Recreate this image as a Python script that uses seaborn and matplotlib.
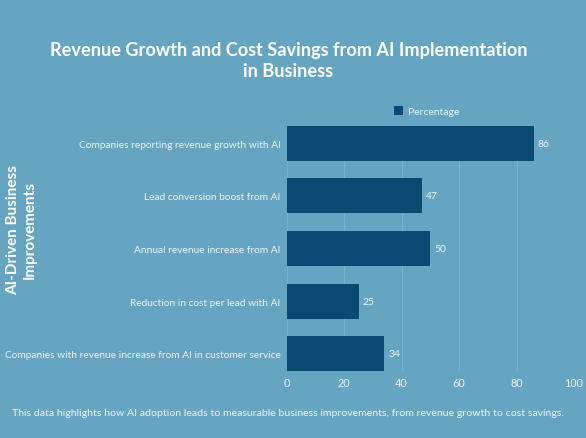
import matplotlib
matplotlib.use("Agg")
import matplotlib.pyplot as plt
from matplotlib.patches import Patch
import seaborn as sns
import pandas as pd

categories = [
    "Companies reporting revenue growth with AI",
    "Lead conversion boost from AI",
    "Annual revenue increase from AI",
    "Reduction in cost per lead with AI",
    "Companies with revenue increase from AI in customer service",
]
values = [86, 47, 50, 25, 34]
series_name = "Percentage"
x_ticks = [0, 20, 40, 60, 80, 100]
title = "Revenue Growth and Cost Savings from AI Implementation\nin Business"
ylabel = "AI-Driven Business\nImprovements"
caption = ("This data highlights how AI adoption leads to measurable business "
           "improvements, from revenue growth to cost savings.")

BG = "#66a5c1"
BAR = "#0a4972"
TXT = "#ffffff"
SOFT = "#eef4f8"

sns.set_theme(style="white")
plt.rcParams['font.family'] = ['Lato', 'DejaVu Sans']

df = pd.DataFrame({"Category": categories, "Value": values, "Series": series_name})

W, H = 586, 439
fig = plt.figure(figsize=(W / 100, H / 100), dpi=100, facecolor=BG)
left, right, top, bottom = 286.7, 574.0, 126.7, 372.3
ax = fig.add_axes([left / W, 1 - bottom / H, (right - left) / W, (bottom - top) / H])
ax.set_facecolor(BG)

sns.barplot(data=df, y="Category", x="Value", orient="h", color=BAR,
            saturation=1, width=0.665, ax=ax, zorder=3,
            edgecolor=BAR, linewidth=0)

ax.set_xlim(0, 100)
ax.set_ylim(4.3325, -0.3325)
ax.set_xticks(x_ticks)
ax.set_xticklabels([str(t) for t in x_ticks])
ax.xaxis.grid(True, color="#ffffff", alpha=0.14, linewidth=0.8, zorder=0)
ax.yaxis.grid(False)
ax.set_axisbelow(True)
for s in ax.spines.values():
    s.set_visible(False)
ax.tick_params(axis="y", length=0, colors=SOFT, labelsize=7.3, pad=4.5)
ax.tick_params(axis="x", length=0, colors=SOFT, labelsize=7.8, pad=4)
ax.set_xlabel("")
ax.set_ylabel("")

ax.bar_label(ax.containers[0], labels=[str(v) for v in values], padding=3,
             color=SOFT, fontsize=7.5)

leg = ax.legend(handles=[Patch(facecolor=BAR, edgecolor="none", label=series_name)],
                loc="center left", bbox_to_anchor=(394 / W, 1 - 112 / H),
                bbox_transform=fig.transFigure, frameon=False, fontsize=7.5,
                handlelength=0.9, handleheight=0.9, handletextpad=0.4,
                borderpad=0, borderaxespad=0)
for t in leg.get_texts():
    t.set_color(SOFT)

fig.text(288.3 / W, 1 - 61 / H, title, ha="center", va="center", fontsize=13.1,
         fontweight="bold", color=TXT, linespacing=1.35)
fig.text(21 / W, 1 - 230 / H, ylabel, ha="center", va="center", rotation=90,
         fontsize=11, fontweight="bold", color=TXT, linespacing=1.25)
fig.text(288.3 / W, 1 - 414 / H, caption, ha="center", va="center",
         fontsize=7.55, color=SOFT)

fig.savefig("out.png", dpi=100, facecolor=BG)
